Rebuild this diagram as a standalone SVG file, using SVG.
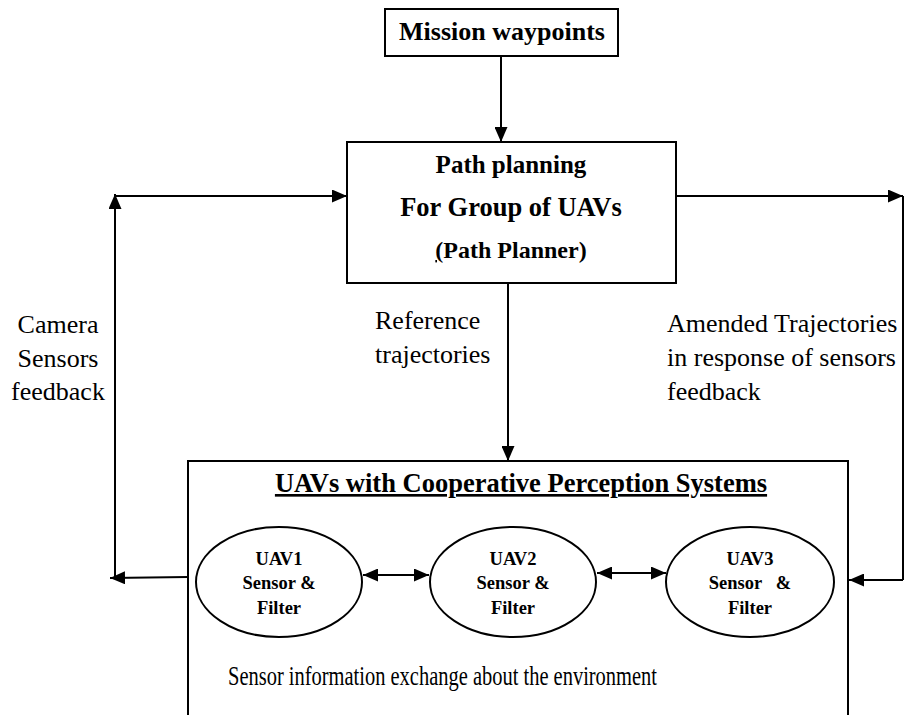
<svg xmlns="http://www.w3.org/2000/svg" width="905" height="715" viewBox="0 0 905 715">
<style>
.box{fill:#fff;stroke:#000;stroke-width:2}
.ln{fill:none;stroke:#000;stroke-width:2}
.t{font-family:"Liberation Serif","Times New Roman",serif;fill:#000}
.b{font-weight:bold}
.lbl{font-size:26px}
.u{font-size:18.5px;font-weight:bold}
</style>
<defs>
<marker id="ah" viewBox="0 0 15 13" refX="15" refY="6.5" markerWidth="15" markerHeight="13" markerUnits="userSpaceOnUse" orient="auto-start-reverse">
<path d="M0,0 L15,6.5 L0,13 Z" fill="#000"/>
</marker>
</defs>
<rect width="905" height="715" fill="#fff"/>
<g id="mission">
<rect class="box" x="385" y="9" width="233" height="47"/>
<text class="t b" x="502" y="40" font-size="26" text-anchor="middle">Mission waypoints</text>
</g>
<g id="planner">
<rect class="box" x="347" y="142" width="329" height="141"/>
<text class="t b" x="511" y="173" font-size="25" text-anchor="middle">Path planning</text>
<text class="t b" x="511" y="216" font-size="26.5" text-anchor="middle">For Group of UAVs</text>
<text class="t b" x="511" y="258" font-size="24" text-anchor="middle"><tspan text-decoration="underline">(</tspan>Path Planner)</text>
</g>
<g id="uavs">
<rect class="box" x="188" y="461" width="660" height="270"/>
<text class="t b" x="521" y="492" font-size="26.5" text-anchor="middle" text-decoration="underline">UAVs with Cooperative Perception Systems</text>
<text class="t" x="228" y="685" font-size="27" textLength="429" lengthAdjust="spacingAndGlyphs">Sensor information exchange about the environment</text>
</g>
<g id="uav1">
<ellipse class="box" cx="279" cy="582" rx="83" ry="55"/>
<text class="t u" x="279" y="565" text-anchor="middle">UAV1</text>
<text class="t u" x="279" y="589" text-anchor="middle">Sensor &amp;</text>
<text class="t u" x="279" y="614" text-anchor="middle">Filter</text>
</g>
<g id="uav2">
<ellipse class="box" cx="513" cy="582" rx="83" ry="55"/>
<text class="t u" x="513" y="565" text-anchor="middle">UAV2</text>
<text class="t u" x="513" y="589" text-anchor="middle">Sensor &amp;</text>
<text class="t u" x="513" y="614" text-anchor="middle">Filter</text>
</g>
<g id="uav3">
<ellipse class="box" cx="750" cy="582" rx="84" ry="55"/>
<text class="t u" x="750" y="565" text-anchor="middle">UAV3</text>
<text class="t u" x="750" y="589" text-anchor="middle" xml:space="preserve">Sensor   &amp;</text>
<text class="t u" x="750" y="614" text-anchor="middle">Filter</text>
</g>
<g id="labels">
<text class="t lbl" x="58" y="333" text-anchor="middle">Camera</text>
<text class="t lbl" x="58" y="367" text-anchor="middle">Sensors</text>
<text class="t lbl" x="58" y="400" text-anchor="middle">feedback</text>
<text class="t lbl" x="375" y="329">Reference</text>
<text class="t lbl" x="375" y="363">trajectories</text>
<text class="t lbl" x="667" y="332">Amended Trajectories</text>
<text class="t lbl" x="667" y="366">in response of sensors</text>
<text class="t lbl" x="667" y="400">feedback</text>
</g>
<g id="connectors">
<line class="ln" x1="501" y1="56" x2="501" y2="142" marker-end="url(#ah)"/>
<line class="ln" x1="676" y1="196" x2="903" y2="196" marker-end="url(#ah)"/>
<line class="ln" x1="903" y1="196" x2="903" y2="580"/>
<line class="ln" x1="903" y1="580" x2="849" y2="580" marker-end="url(#ah)"/>
<line class="ln" x1="115" y1="196" x2="347" y2="196" marker-end="url(#ah)"/>
<line class="ln" x1="115" y1="578" x2="115" y2="194" marker-end="url(#ah)"/>
<line class="ln" x1="188" y1="577" x2="110" y2="578" marker-end="url(#ah)"/>
<line class="ln" x1="508" y1="283" x2="508" y2="461" marker-end="url(#ah)"/>
<line class="ln" x1="363" y1="575" x2="429" y2="575" marker-start="url(#ah)" marker-end="url(#ah)"/>
<line class="ln" x1="597" y1="573" x2="666" y2="573" marker-start="url(#ah)" marker-end="url(#ah)"/>
</g>
</svg>
